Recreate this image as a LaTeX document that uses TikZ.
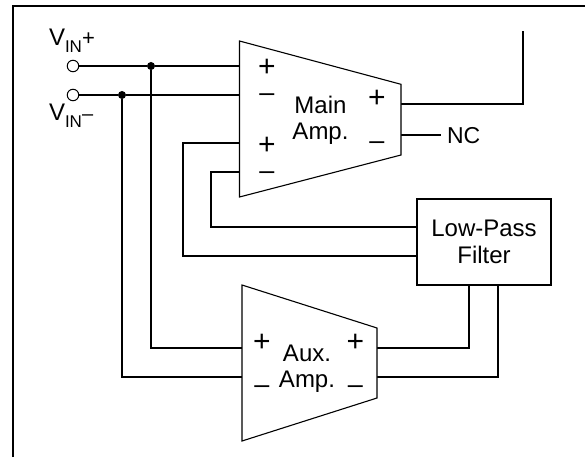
\documentclass[tikz,border=0pt]{standalone}
\usepackage{fontspec}
\setmainfont{Liberation Sans}
\tikzset{
  wire/.style={line width=2pt,line cap=butt,line join=miter},
  ampbody/.style={draw,line width=1.1pt,fill=white,line join=miter},
  lbl/.style={inner sep=0pt,outer sep=0pt,align=center,font=\fontsize{24pt}{26.4pt}\selectfont},
  nclbl/.style={inner sep=0pt,outer sep=0pt,font=\fontsize{23pt}{26pt}\selectfont},
  plussign/.style={inner sep=0pt,outer sep=0pt,font=\fontsize{30pt}{30pt}\selectfont},
  minussign/.style={inner sep=0pt,outer sep=0pt,font=\fontsize{27pt}{27pt}\selectfont},
  term/.style={circle,draw,line width=1pt,fill=white,minimum size=11.5pt,inner sep=0pt,outer sep=0pt},
  junction/.style={circle,fill=black,minimum size=8pt,inner sep=0pt,outer sep=0pt},
  filterbox/.style={draw,line width=2pt,minimum width=134pt,minimum height=86.5pt,inner sep=0pt,outer sep=0pt,align=center,font=\fontsize{24pt}{26.4pt}\selectfont}
}
\begin{document}
\begin{tikzpicture}[x=1pt,y=-1pt]
\useasboundingbox (0,0) rectangle (585,457);
\coordinate (frameA) at (13,457);
\coordinate (frameB) at (13,5.7);
\coordinate (frameC) at (585,5.7);
\draw[line width=2pt] (frameA) -- (frameB) -- (frameC);

% terminals and junctions
\node[term] (vp) at (73,66) {};
\node[term] (vn) at (73,95) {};
\node[junction] (jp) at (151,66) {};
\node[junction] (jn) at (122,95) {};

% pins
\coordinate (mip) at (239.5,66);
\coordinate (min) at (239.5,95);
\coordinate (mfp) at (239.5,143);
\coordinate (mfn) at (239.5,172);
\coordinate (mop) at (401,104);
\coordinate (mon) at (401,135);
\coordinate (aip) at (242,348);
\coordinate (ain) at (242,377);
\coordinate (aop) at (377,348);
\coordinate (aon) at (377,377);
\coordinate (outtop) at (523,31);

\node[filterbox] (lpf) at (484,242) {Low-Pass\\Filter};
\coordinate (lpfa) at (lpf.west |- 0,227);
\coordinate (lpfb) at (lpf.west |- 0,256);
\coordinate (lpfc) at (469,285);
\coordinate (lpfd) at (498,285);

% wires
\draw[wire] (vp) -- (jp) -- (mip);
\draw[wire] (vn) -- (jn) -- (min);
\draw[wire] (jp) |- (aip);
\draw[wire] (jn) |- (ain);
\draw[wire] (mfp) -| (183,256) -- (lpfb);
\draw[wire] (mfn) -| (211,227) -- (lpfa);
\draw[wire] (mop) -| (outtop);
\node[nclbl,anchor=west] (nc) at (447,135.5) {NC};
\draw[wire] (mon) -- (441,135);
\draw[wire] (lpfc) |- (aop);
\draw[wire] (lpfd) |- (aon);

% amplifiers
\draw[ampbody] (239.5,41) -- (401,84.3) -- (401,155) -- (239.5,197) -- cycle;
\draw[ampbody] (242,285) -- (377,328) -- (377,398) -- (242,441) -- cycle;

% text
\node[lbl] (mainl) at (320.5,120) {Main\\Amp.};
\node[lbl] (auxl) at (307,368.5) {Aux.\\Amp.};
\node[plussign] (s1) at (267,68) {+};
\node[minussign] (s2) at (267,98) {–};
\node[plussign] (s3) at (267,146) {+};
\node[minussign] (s4) at (267,176) {–};
\node[plussign] (s5) at (377,99) {+};
\node[minussign] (s6) at (377,146) {–};
\node[plussign] (s7) at (262,343) {+};
\node[minussign] (s8) at (262,389.5) {–};
\node[plussign] (s9) at (355.5,343) {+};
\node[minussign] (s10) at (355.5,389.5) {–};

\node[lbl,anchor=base west] (vip) at (49,45.5) {V\raisebox{-7pt}{\fontsize{17pt}{17pt}\selectfont IN}\raisebox{0pt}{\fontsize{22pt}{22pt}\selectfont +}};
\node[lbl,anchor=base west] (vim) at (49,121) {V\raisebox{-7pt}{\fontsize{17pt}{17pt}\selectfont IN}\raisebox{0pt}{\fontsize{20pt}{20pt}\selectfont –}};
\end{tikzpicture}
\end{document}
